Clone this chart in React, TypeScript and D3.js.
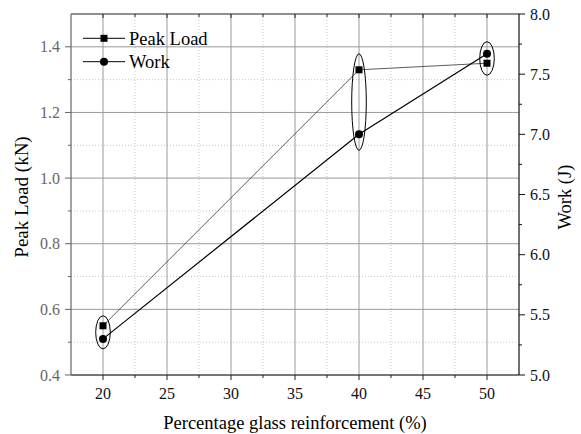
import React from "react";
import * as d3 from "d3";

// Glass reinforcement levels and the measured responses
const glassPct = [20, 40, 50];
const peakLoad = [0.55, 1.33, 1.35]; // kN, left axis
const work = [5.3, 7.0, 7.67]; // J, right axis

// Extra vertical padding of the grouping ellipse drawn around each pair
const groupPad = [10, 16, 12];

// Axis ticks
const xMajor = [20, 25, 30, 35, 40, 45, 50];
const xMinor = [22.5, 27.5, 32.5, 37.5, 42.5, 47.5];
const yLeftMajor = [0.4, 0.6, 0.8, 1.0, 1.2, 1.4];
const yLeftMinor = [0.5, 0.7, 0.9, 1.1, 1.3];
const yRightMajor = [5.0, 5.5, 6.0, 6.5, 7.0, 7.5, 8.0];
const yRightMinor = [5.25, 5.75, 6.25, 6.75, 7.25, 7.75];

const W = 581;
const H = 434;
const M = { left: 71, right: 519, top: 14, bottom: 375 };
const FONT = "'Liberation Serif', 'Times New Roman', serif";

export default function App() {
  const x = d3.scaleLinear().domain([17.5, 52.5]).range([M.left, M.right]);
  const yL = d3.scaleLinear().domain([0.4, 1.5]).range([M.bottom, M.top]);
  const yR = d3.scaleLinear().domain([5, 8]).range([M.bottom, M.top]);

  const peakPts: [number, number][] = glassPct.map((g, i) => [x(g), yL(peakLoad[i])]);
  const workPts: [number, number][] = glassPct.map((g, i) => [x(g), yR(work[i])]);
  const line = d3.line();

  const sq = 7;
  const cr = 4;
  const txt = { fontFamily: FONT };

  return (
    <svg
      width={W}
      height={H}
      style={{ position: "absolute", left: 0, top: 0, background: "#fff", fontFamily: FONT }}
    >
      {/* grid */}
      {xMinor.map((v) => (
        <line key={"gxm" + v} x1={x(v)} x2={x(v)} y1={M.top} y2={M.bottom} stroke="#c8c8c8" strokeWidth={1} strokeDasharray="1,2" />
      ))}
      {yLeftMinor.map((v) => (
        <line key={"gym" + v} x1={M.left} x2={M.right} y1={yL(v)} y2={yL(v)} stroke="#c8c8c8" strokeWidth={1} strokeDasharray="1,2" />
      ))}
      {xMajor.map((v) => (
        <line key={"gx" + v} x1={x(v)} x2={x(v)} y1={M.top} y2={M.bottom} stroke="#9a9a9a" strokeWidth={1} />
      ))}
      {yLeftMajor.map((v) => (
        <line key={"gy" + v} x1={M.left} x2={M.right} y1={yL(v)} y2={yL(v)} stroke="#9a9a9a" strokeWidth={1} />
      ))}

      {/* data lines */}
      <path d={line(peakPts) || ""} fill="none" stroke="#333" strokeWidth={0.8} />
      <path d={line(workPts) || ""} fill="none" stroke="#000" strokeWidth={1.2} />

      {/* markers */}
      {peakPts.map(([px, py], i) => (
        <rect key={"sq" + i} x={px - sq / 2} y={py - sq / 2} width={sq} height={sq} fill="#000" />
      ))}
      {workPts.map(([px, py], i) => (
        <circle key={"c" + i} cx={px} cy={py} r={cr} fill="#000" />
      ))}

      {/* grouping ellipses */}
      {glassPct.map((g, i) => {
        const a = yL(peakLoad[i]);
        const b = yR(work[i]);
        return (
          <ellipse
            key={"el" + i}
            cx={x(g)}
            cy={(a + b) / 2}
            rx={7.3}
            ry={Math.abs(a - b) / 2 + groupPad[i]}
            fill="none"
            stroke="#000"
            strokeWidth={1}
          />
        );
      })}

      {/* frame */}
      <line x1={M.left} x2={M.right} y1={M.top} y2={M.top} stroke="#222" strokeWidth={1.2} />
      <line x1={M.left} x2={M.right} y1={M.bottom} y2={M.bottom} stroke="#222" strokeWidth={1.2} />
      <line x1={M.left} x2={M.left} y1={M.top} y2={M.bottom} stroke="#666" strokeWidth={1.2} />
      <line x1={M.right} x2={M.right} y1={M.top} y2={M.bottom} stroke="#111" strokeWidth={1.2} />

      {/* bottom axis */}
      {xMajor.map((v) => (
        <g key={"bx" + v}>
          <line x1={x(v)} x2={x(v)} y1={M.bottom} y2={M.bottom + 5} stroke="#222" strokeWidth={1} />
          <line x1={x(v)} x2={x(v)} y1={M.top} y2={M.top + 4} stroke="#222" strokeWidth={1} />
          <text x={x(v)} y={398.5} textAnchor="middle" fontSize={16} fill="#111" style={txt}>
            {v}
          </text>
        </g>
      ))}
      {xMinor.map((v) => (
        <g key={"bxm" + v}>
          <line x1={x(v)} x2={x(v)} y1={M.bottom} y2={M.bottom + 3} stroke="#222" strokeWidth={1} />
          <line x1={x(v)} x2={x(v)} y1={M.top} y2={M.top + 3} stroke="#222" strokeWidth={1} />
        </g>
      ))}

      {/* left axis */}
      {yLeftMajor.map((v) => (
        <g key={"ly" + v}>
          <line x1={M.left - 6} x2={M.left} y1={yL(v)} y2={yL(v)} stroke="#666" strokeWidth={1} />
          <text x={60} y={yL(v)} dy="0.35em" textAnchor="end" fontSize={16} fill="#666" style={txt}>
            {v.toFixed(1)}
          </text>
        </g>
      ))}
      {yLeftMinor.map((v) => (
        <line key={"lym" + v} x1={M.left - 3} x2={M.left} y1={yL(v)} y2={yL(v)} stroke="#666" strokeWidth={1} />
      ))}

      {/* right axis */}
      {yRightMajor.map((v) => (
        <g key={"ry" + v}>
          <line x1={M.right} x2={M.right + 6} y1={yR(v)} y2={yR(v)} stroke="#111" strokeWidth={1} />
          <text x={530} y={yR(v)} dy="0.35em" textAnchor="start" fontSize={16} fill="#111" style={txt}>
            {v.toFixed(1)}
          </text>
        </g>
      ))}
      {yRightMinor.map((v) => (
        <line key={"rym" + v} x1={M.right} x2={M.right + 3} y1={yR(v)} y2={yR(v)} stroke="#111" strokeWidth={1} />
      ))}

      {/* axis titles */}
      <text x={(M.left + M.right) / 2} y={429} textAnchor="middle" fontSize={18.5} fill="#000" style={txt}>
        Percentage glass reinforcement (%)
      </text>
      <text transform={`translate(28, 197) rotate(-90)`} textAnchor="middle" fontSize={19} fill="#000" style={txt}>
        Peak Load (kN)
      </text>
      <text transform={`translate(571, 197) rotate(-90)`} textAnchor="middle" fontSize={18.5} fill="#000" style={txt}>
        Work (J)
      </text>

      {/* legend */}
      <g>
        <line x1={83} x2={125} y1={38.3} y2={38.3} stroke="#000" strokeWidth={1} />
        <rect x={104 - sq / 2} y={38.3 - sq / 2} width={sq} height={sq} fill="#000" />
        <text x={129} y={44.5} fontSize={18.5} fill="#000" style={txt}>
          Peak Load
        </text>
        <line x1={83} x2={125} y1={61.7} y2={61.7} stroke="#000" strokeWidth={1} />
        <circle cx={104} cy={61.7} r={cr} fill="#000" />
        <text x={129} y={67.9} fontSize={18.5} fill="#000" style={txt}>
          Work
        </text>
      </g>
    </svg>
  );
}
